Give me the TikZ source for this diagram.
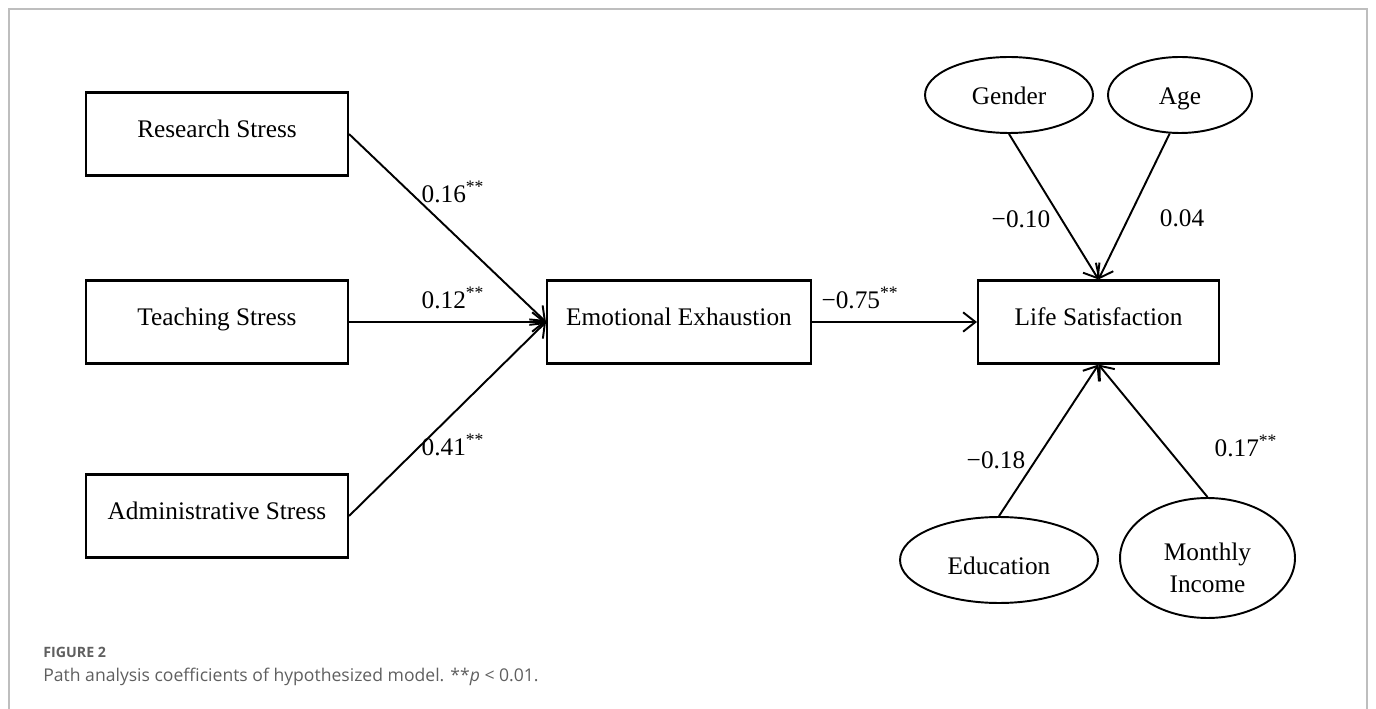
\documentclass[tikz,border=0pt]{standalone}
\usepackage{fontspec}
\setmainfont{Liberation Serif}
\newfontfamily\capfont{Open Sans}
\usepackage{xcolor}
\usepackage{tikz}
\usetikzlibrary{shapes.geometric,arrows.meta}
\definecolor{framegray}{RGB}{190,190,190}
\definecolor{capgray}{RGB}{95,95,95}

\begin{document}
\begin{tikzpicture}[x=0.02cm,y=-0.02cm,
        varbox/.style={draw,line width=1.2pt,inner sep=0pt,minimum height=1.66cm,
            text height=9pt,text depth=4.6pt,font=\fontsize{14.4}{17}\selectfont},
        ctrl/.style={draw,ellipse,line width=1.1pt,inner sep=0pt,
            font=\fontsize{14.4}{18.7}\selectfont},
        coef/.style={inner sep=0pt,font=\fontsize{14.4}{17}\selectfont},
        arr/.style={line width=1.1pt,-{Straight Barb[length=7pt,width=11pt]}}]
                \useasboundingbox (0,0) rectangle (1376,709);
                \draw [framegray, line width=0.6pt] (9,709) -- (9,9) -- (1367,9) -- (1367,709);
                \node [varbox, minimum width=5.24cm] (rs) at (217,134) {Research Stress};
                \node [varbox, minimum width=5.24cm] (ts) at (217,322) {Teaching Stress};
                \node [varbox, minimum width=5.24cm] (as) at (217,516) {Administrative Stress};
                \node [varbox, minimum width=5.28cm] (ee) at (679,322) {Emotional Exhaustion};
                \node [varbox, minimum width=4.82cm] (ls) at (1098.5,322) {Life Satisfaction};
                \node [ctrl, text height=14pt, text depth=3pt, minimum width=3.36cm, minimum height=1.52cm] (gender) at (1009,95) {Gender};
                \node [ctrl, text height=14pt, text depth=3pt, minimum width=2.88cm, minimum height=1.52cm] (age) at (1180,95) {Age};
                \node [ctrl, text height=20pt, text depth=3pt, minimum width=3.96cm, minimum height=1.72cm] (edu) at (999,560) {Education};
                \node [ctrl, minimum width=3.50cm, minimum height=2.40cm] (income) at (1207.5,558)
                    {\raisebox{-6.8pt}[\height][\depth]{\begin{tabular}{@{}c@{}}Monthly\\Income\end{tabular}}};
                \draw [arr] (rs.east) -- (ee.west);
                \draw [arr] (ts.east) -- (ee.west);
                \draw [arr] (as.east) -- (ee.west);
                \draw [arr] (ee.east) -- (ls.west);
                \draw [arr] (gender.south) -- (ls.north);
                \draw [arr] (age.255) -- (ls.north);
                \draw [arr] (edu.north) -- (ls.south);
                \draw [arr] (income.north) -- (ls.south);
                \node [coef] (c16) at (453,192) {0.16\textsuperscript{**}};
                \node [coef] (c12) at (453,298) {0.12\textsuperscript{**}};
                \node [coef] (c41) at (453,445) {0.41\textsuperscript{**}};
                \node [coef] (c75) at (860,298) {−0.75\textsuperscript{**}};
                \node [coef] (c10) at (1021,219) {−0.10};
                \node [coef] (c04) at (1182,218) {0.04};
                \node [coef] (c18) at (996,460) {−0.18};
                \node [coef] (c17) at (1246,446) {0.17\textsuperscript{**}};
                \node [anchor=base west, inner sep=0pt, text=capgray,
                    font=\capfont\bfseries\fontsize{8.1}{10}\selectfont] (fig) at (43,657) {FIGURE 2};
                \node [anchor=base west, inner sep=0pt, text=capgray,
                    font=\capfont\fontsize{10}{12}\selectfont] (cap) at (43,681)
                    {Path analysis coefficients of hypothesized model. **\textit{p} < 0.01.};
            \end{tikzpicture}
\end{document}
